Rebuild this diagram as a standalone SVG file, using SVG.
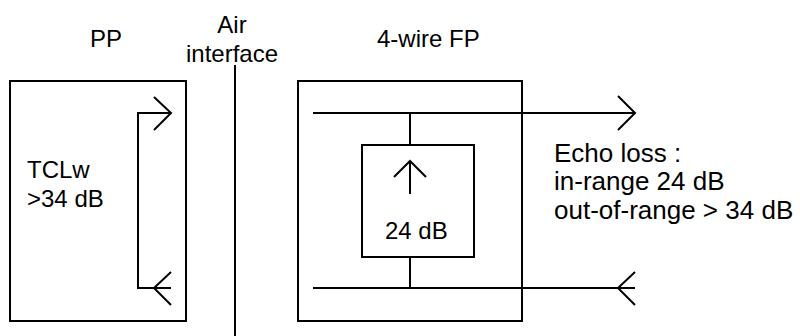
<svg xmlns="http://www.w3.org/2000/svg" width="800" height="336" viewBox="0 0 800 336">
<style>
text{font-family:"Liberation Sans",Arial,sans-serif;font-size:24px;fill:#000}
.big{font-size:26px}
.ln{fill:none;stroke:#000;stroke-width:2}
</style>
<rect width="800" height="336" fill="#fff"/>
<g id="pp">
<rect class="ln" x="10" y="81" width="176" height="240"/>
<text x="90" y="47">PP</text>
<text x="27" y="178">TCLw</text>
<text x="27" y="207">&gt;34 dB</text>
</g>
<g id="air">
<text x="232" y="33" text-anchor="middle">Air</text>
<text x="232" y="62" text-anchor="middle">interface</text>
<line class="ln" x1="235" y1="65" x2="235" y2="336"/>
</g>
<g id="fp">
<rect class="ln" x="298" y="81" width="224" height="240"/>
<text x="377" y="47">4-wire FP</text>
</g>
<g id="hybrid">
<rect class="ln" x="362" y="145" width="112" height="112"/>
<text x="385" y="239">24 dB</text>
<path class="ln" d="M410,194 V161 M394,177 L410,161 L426,177"/>
</g>
<g id="echo">
<text class="big" x="554" y="162">Echo loss :</text>
<text class="big" x="554" y="190">in-range 24 dB</text>
<text class="big" x="554" y="219">out-of-range &gt; 34 dB</text>
</g>
<g id="connectors">
<path class="ln" d="M171,113 H138 V288 H171"/>
<path class="ln" d="M154,97 L171,113 L154,130"/>
<path class="ln" d="M171,272 L154,288 L171,305"/>
<path class="ln" d="M313,113 H635 M618,96 L635,113 L618,130"/>
<path class="ln" d="M313,288 H635 M635,272 L618,288 L635,305"/>
<path class="ln" d="M410,113 V145 M410,257 V288"/>
</g>
</svg>
